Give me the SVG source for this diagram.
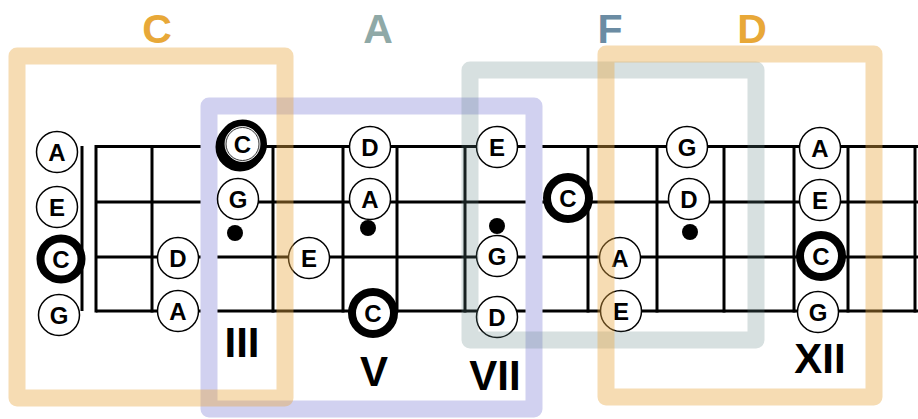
<svg xmlns="http://www.w3.org/2000/svg" width="918" height="419" viewBox="0 0 918 419">
<style>
.str{stroke:#000;stroke-width:3;fill:none}
.n circle{fill:#fff;stroke:#000;stroke-width:1.5}
.n circle.b{stroke-width:8}
.n text{font-family:"Liberation Sans",Arial,sans-serif;font-weight:bold;font-size:24px;text-anchor:middle;fill:#000}
.dot{fill:#000}
.box{fill:none;stroke-width:17;stroke-linejoin:round}
.roman{font-family:"Liberation Sans",Arial,sans-serif;font-weight:bold;font-size:42px;text-anchor:middle;fill:#000}
.key{font-family:"Liberation Sans",Arial,sans-serif;font-weight:bold;font-size:41px;text-anchor:middle}
.ring{fill:none}
</style>
<rect width="918" height="419" fill="#fff"/>
<g id="fretboard">
<line class="str" x1="82" y1="146" x2="82" y2="311"/>
<line class="str" x1="96" y1="146.5" x2="918" y2="146.5"/>
<line class="str" x1="96" y1="202" x2="918" y2="202"/>
<line class="str" x1="96" y1="257" x2="918" y2="257"/>
<line class="str" x1="96" y1="311" x2="918" y2="311"/>
<g class="str">
<line x1="96" y1="145" x2="96" y2="312.5"/>
<line x1="152" y1="145" x2="152" y2="312.5"/>
<line x1="209" y1="145" x2="209" y2="312.5"/>
<line x1="273" y1="145" x2="273" y2="312.5"/>
<line x1="343" y1="145" x2="343" y2="312.5"/>
<line x1="397" y1="145" x2="397" y2="312.5"/>
<line x1="465" y1="145" x2="465" y2="312.5"/>
<line x1="534" y1="145" x2="534" y2="312.5"/>
<line x1="588" y1="145" x2="588" y2="312.5"/>
<line x1="657" y1="145" x2="657" y2="312.5"/>
<line x1="724" y1="145" x2="724" y2="312.5"/>
<line x1="794" y1="145" x2="794" y2="312.5"/>
<line x1="848" y1="145" x2="848" y2="312.5"/>
<line x1="915" y1="145" x2="915" y2="312.5"/>
</g>
</g>
<g id="box-A">
<rect class="box" x="209" y="106" width="325" height="303" stroke="#d1d1f0"/>
</g>
<g id="notes">
<g class="n" id="nut-A"><circle cx="57" cy="152" r="20.5"/><text x="57" y="160.5">A</text></g>
<g class="n" id="nut-E"><circle cx="57" cy="207" r="20.5"/><text x="57" y="215.5">E</text></g>
<g class="n" id="nut-C"><circle class="b" cx="61" cy="259" r="20.5"/><text x="61" y="267.5">C</text></g>
<g class="n" id="nut-G"><circle cx="59" cy="315" r="20.5"/><text x="59" y="323.5">G</text></g>
<g class="n" id="f2-D"><circle cx="178" cy="258" r="20.5"/><text x="178" y="266.5">D</text></g>
<g class="n" id="f2-A"><circle cx="178" cy="311" r="20.5"/><text x="178" y="319.5">A</text></g>
<g class="n" id="f3-C"><circle class="b" cx="240" cy="147" r="20.5"/><circle class="b" cx="242.5" cy="144" r="20.5"/><circle class="ring" cx="242.5" cy="144" r="17.5" style="stroke:#fff;stroke-width:0.8"/><circle class="ring" cx="242.5" cy="144" r="16.5" style="stroke:#000;stroke-width:0.8"/><text x="242.5" y="152.5">C</text></g>
<g class="n" id="f3-G"><circle cx="238" cy="199" r="20.5"/><text x="238" y="207.5">G</text></g>
<circle class="dot" id="f3-dot" cx="235" cy="233" r="8"/>
<g class="n" id="f4-E"><circle cx="309" cy="258" r="20.5"/><text x="309" y="266.5">E</text></g>
<g class="n" id="f5-D"><circle cx="370" cy="147" r="20.5"/><text x="370" y="155.5">D</text></g>
<g class="n" id="f5-A"><circle cx="370" cy="199" r="20.5"/><text x="370" y="207.5">A</text></g>
<circle class="dot" id="f5-dot" cx="368" cy="228" r="8"/>
<g class="n" id="f5-C"><circle class="b" cx="373" cy="313" r="21"/><text x="373" y="321.5">C</text></g>
<g class="n" id="f7-E"><circle cx="497" cy="147" r="20.5"/><text x="497" y="155.5">E</text></g>
<circle class="dot" id="f7-dot" cx="497" cy="226" r="8"/>
<g class="n" id="f7-G"><circle cx="497" cy="256" r="20.5"/><text x="497" y="264.5">G</text></g>
<g class="n" id="f7-D"><circle cx="497" cy="317" r="20.5"/><text x="497" y="325.5">D</text></g>
<g class="n" id="f8-C"><circle class="b" cx="568" cy="198" r="21"/><text x="568" y="206.5">C</text></g>
<g class="n" id="f9-A"><circle cx="620" cy="258" r="20.5"/><text x="620" y="266.5">A</text></g>
<g class="n" id="f9-E"><circle cx="621" cy="311" r="20.5"/><text x="621" y="319.5">E</text></g>
<g class="n" id="f10-G"><circle cx="687" cy="147" r="20.5"/><text x="687" y="155.5">G</text></g>
<g class="n" id="f10-D"><circle cx="689" cy="199" r="20.5"/><text x="689" y="207.5">D</text></g>
<circle class="dot" id="f10-dot" cx="690" cy="232" r="8"/>
<g class="n" id="f12-A"><circle cx="820" cy="148" r="20.5"/><text x="820" y="156.5">A</text></g>
<g class="n" id="f12-E"><circle cx="820" cy="200" r="20.5"/><text x="820" y="208.5">E</text></g>
<g class="n" id="f12-C"><circle class="b" cx="821" cy="256" r="21"/><text x="821" y="264.5">C</text></g>
<g class="n" id="f12-G"><circle cx="818" cy="312" r="20.5"/><text x="818" y="320.5">G</text></g>
</g>
<g id="box-F">
<rect class="box" x="470" y="70" width="286" height="270" stroke="#5f8585" stroke-opacity="0.25"/>
</g>
<g id="box-C">
<rect class="box" x="17" y="56" width="268" height="342" stroke="#e8a840" stroke-opacity="0.4"/>
</g>
<g id="box-D">
<rect class="box" x="606" y="54" width="268" height="343" stroke="#e8a840" stroke-opacity="0.4"/>
</g>
<g id="labels">
<text class="key" x="157" y="43" fill="#e8a838">C</text>
<text class="key" x="378" y="43" fill="#8fa9a7">A</text>
<text class="key" x="610" y="43" fill="#6b8ca3">F</text>
<text class="key" x="752" y="43" fill="#e8a838">D</text>
<text class="roman" x="242" y="357">III</text>
<text class="roman" x="374" y="386">V</text>
<text class="roman" x="495" y="390">VII</text>
<text class="roman" x="820" y="373">XII</text>
</g>
</svg>
